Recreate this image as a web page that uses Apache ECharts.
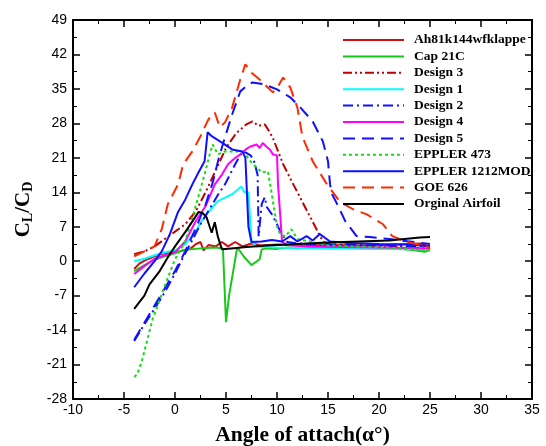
<!DOCTYPE html>
<html>
<head>
<meta charset="utf-8">
<script src="https://cdn.jsdelivr.net/npm/echarts@6/dist/echarts.min.js"></script>
<style>
  html, body { margin: 0; padding: 0; background: #fff; }
  #chart { width: 546px; height: 446px; }
</style>
</head>
<body>
<div id="chart"></div>
<script>
// values, [angle, CL/CD]
const ah81 = [[-4,-1.6],[-3.5,-0.5],[-2.7,0.4],[-2,1],[-1.5,1.4],[-0.5,1.8],[0.5,2],[1.5,2.5],[2,3.4],[2.5,3.9],[2.8,2.2],[3.3,3.3],[4,3],[4.6,3.9],[5.2,3],[5.9,3.9],[6.6,3],[7.5,3.6],[8.5,3.2],[10,3.4],[12,3.2],[15,3.3],[18,3.2],[21,3.3],[24,3.6],[25,3]];
const cap21c = [[-4,-2],[-3,-0.8],[-2,0.3],[-1,1],[0,1.6],[0.7,2.2],[2,2.5],[3,2.7],[4,2.8],[4.7,2.6],[5,-12.4],[5.3,-7],[6.1,2.8],[6.8,0.8],[7.5,-0.8],[8.3,0.4],[8.5,2.4],[9,2.6],[10,2.5],[11,2.8],[12,2.6],[14,2.8],[16,2.9],[18,2.8],[20,2.7],[22,2.5],[23.5,2.2],[24.5,1.9],[25,2.3]];
const design3 = [[-4,1.4],[-3,2],[-2,3],[-1,4.5],[0,6],[1,7.5],[2,10],[3,14],[4,18.5],[5,23],[6,26],[7,27.8],[7.6,28.4],[8.2,27.5],[8.8,27.8],[9.2,26.5],[9.6,25],[10.6,19.7],[11.6,15.6],[12.5,12],[13.3,8.8],[14,6],[14.5,4],[15,3.5],[17,3.2],[20,3],[23,2.8],[25,2.6]];
const design1 = [[-4,0],[-3,0.5],[-2,1.2],[-1,1.8],[0,2.2],[1,3.4],[2,6],[2.6,8.1],[3.4,10.3],[4.2,12.2],[5,13],[5.6,13.6],[6.2,14.6],[6.5,15.2],[6.8,14],[7.2,14],[7.5,4],[8,3],[10,2.8],[15,2.6],[20,2.5],[25,2.4]];
const design2 = [[-4,-16.2],[-3,-12.8],[-2.2,-10.3],[-1,-6.3],[0,-2.5],[0.7,0.4],[1.5,3.5],[2.5,7.5],[3.5,11],[4.3,13.8],[4.9,15.6],[5.9,19.7],[6.6,22.3],[7,22],[7.4,21.5],[7.7,20.7],[8.1,17.5],[8.2,5],[8.5,11.6],[8.8,13],[9,11],[9.5,9.5],[10,7.5],[10.3,6.1],[11,3.9],[12,3.6],[15,3.4],[20,3.2],[25,3]];
const design4 = [[-4,-2.6],[-3,-1],[-2,0.5],[-1,1.2],[0,1.8],[1,4],[2,8],[3,11.2],[3.9,15.6],[4.6,17.6],[5.2,19.7],[5.8,20.8],[6.4,21.7],[7,22.8],[7.4,23.3],[8,23.7],[8.3,23],[8.6,24],[9,23.2],[9.3,22.7],[9.6,21.7],[10,21.5],[10.1,15.6],[10.5,3.9],[11,3.3],[13,3],[16,2.9],[20,2.8],[25,2.6]];
const design5 = [[-4,-16],[-3,-12.5],[-2,-9],[-1,-5.5],[0,-2],[1,2],[2,6.5],[3,11.5],[3.7,16],[4.3,21],[4.9,25.2],[5.6,29.8],[6.4,34.5],[7.2,35.9],[7.6,36.3],[8.8,35.9],[10,34.9],[11.3,33.3],[12.3,31.2],[13.5,28.4],[14.5,24.3],[15,20.3],[15.2,15.6],[15.4,13.6],[15.9,11.6],[16.7,8.1],[17.8,5.1],[19.1,4.9],[21,4.5],[23,4],[25,3.5]];
const eppler473 = [[-4,-23.5],[-3.7,-23],[-3.2,-19.9],[-2.2,-11.8],[-1,-5],[0,0.4],[1,4],[2,11],[2.9,17.6],[3.4,21.7],[3.7,23.7],[4.2,21.7],[4.9,22.3],[6.2,22.3],[6.9,21.7],[7.4,20.3],[8.5,18],[9.1,18.3],[9.3,16],[10,7.1],[10.3,5.5],[10.8,5],[11.4,6.5],[12,4.5],[13.2,4],[15,3.2],[20,2.8],[25,2.2]];
const eppler1212 = [[-4,-5.3],[-3,-2.5],[-2,0],[-1.3,2],[-0.5,5.5],[0.3,10],[1,12.5],[1.7,15.6],[2.3,18],[2.9,20.3],[3.2,26.2],[3.6,25.4],[4.6,24.1],[5.6,22.7],[6.6,22.3],[6.9,21],[7.2,7],[7.4,4.9],[7.5,3.9],[8.5,4],[9.5,4.3],[10.5,4],[11.3,5.1],[12,4],[12.9,5.1],[13.5,4.2],[14.2,5.5],[15.2,4],[17,3.7],[20,3.5],[23,3.4],[25,3]];
const goe626 = [[-4,1],[-3,2],[-2,3],[-1.3,6.5],[-0.7,11.6],[0.3,15.6],[0.8,19.7],[1.7,22.3],[2.5,25.4],[3.2,28.5],[3.6,29.8],[3.9,30.2],[4.4,27.2],[4.9,28.2],[5.6,31.2],[6.4,36.9],[6.9,40],[7.5,38.3],[8.3,36.9],[9,35.5],[9.6,34.3],[10.1,35.5],[10.6,37.3],[11.3,35.3],[12,31.2],[12.5,25.2],[13.5,20.3],[14.9,15.6],[16.2,12],[17.5,10.5],[18.8,9.5],[20.4,7.5],[21.3,5.1],[22,4.5],[23,3.8],[24.7,3],[25,2.5]];
const original = [[-4,-9.7],[-3,-7],[-2.5,-4.7],[-1.5,-2],[-0.7,0.8],[0,3],[1,5.9],[2,9],[2.3,10],[2.7,9.8],[3.1,8.9],[3.4,7],[3.6,5.8],[3.9,7.9],[4.2,5],[4.6,2.4],[5.5,2.6],[7,2.9],[9,3.2],[12,3.5],[15,3.8],[18,4],[21,4.2],[24,4.8],[25,4.9]];

const xTicks = { min: -10, max: 35, step: 5 };
const yTicks = { min: -28, max: 49, step: 7 };

const chart = echarts.init(document.getElementById('chart'));

function line(name, data, color, type) {
  return {
    name: name,
    type: 'line',
    data: data,
    symbol: 'none',
    smooth: false,
    color: color,
    lineStyle: { color: color, width: 2, type: type }
  };
}

const axisCommon = {
  axisLine: { show: true, onZero: false, lineStyle: { color: '#000', width: 2 } },
  axisTick: { show: true, inside: true, length: 7, lineStyle: { color: '#000', width: 1.5 } },
  minorTick: { show: true, splitNumber: 2, length: 4, lineStyle: { color: '#000', width: 1 } },
  splitLine: { show: false }
};

const labelFont = { color: '#000', fontFamily: 'Liberation Sans, Arial', fontSize: 14 };
const serif = 'Liberation Serif, Times New Roman';

const option = {
  animation: false,
  backgroundColor: '#fff',
  grid: { left: 73, right: 14, top: 20, bottom: 47, outerBoundsMode: 'none', containLabel: false },
  legend: {
    orient: 'vertical',
    left: 337,
    top: 28,
    itemWidth: 61,
    itemHeight: 14,
    itemGap: 2.4,
    itemStyle: { opacity: 0 },
    textStyle: { fontFamily: serif, fontWeight: 'bold', fontSize: 13.5, color: '#000', padding: [0, 0, 0, 5] },
    data: ['Ah81k144wfklappe', 'Cap 21C', 'Design 3', 'Design 1', 'Design 2', 'Design 4', 'Design 5', 'EPPLER 473', 'EPPLER 1212MOD', 'GOE 626', 'Orginal Airfoil']
  },
  xAxis: [
    Object.assign({
      type: 'value', min: xTicks.min, max: xTicks.max, interval: xTicks.step,
      axisLabel: Object.assign({ margin: 4 }, labelFont),
      name: 'Angle of attach(\u03b1\u00b0)',
      nameLocation: 'middle',
      nameGap: 25,
      nameTextStyle: { fontFamily: serif, fontWeight: 'bold', fontSize: 21.5, color: '#000' }
    }, axisCommon),
    Object.assign({
      type: 'value', position: 'top', min: xTicks.min, max: xTicks.max, interval: xTicks.step,
      axisLabel: { show: false }
    }, axisCommon)
  ],
  yAxis: [
    Object.assign({
      type: 'value', min: yTicks.min, max: yTicks.max, interval: yTicks.step,
      axisLabel: Object.assign({ margin: 6 }, labelFont),
      name: '{a|C}{s|L}{a|/C}{s|D}',
      nameLocation: 'middle',
      nameRotate: 90,
      nameGap: 36,
      nameTextStyle: {
        rich: {
          a: { fontFamily: serif, fontWeight: 'bold', fontSize: 21, color: '#000' },
          s: { fontFamily: serif, fontWeight: 'bold', fontSize: 14, color: '#000', verticalAlign: 'bottom', padding: [10, 0, 0, 0] }
        }
      }
    }, axisCommon),
    Object.assign({
      type: 'value', position: 'right', min: yTicks.min, max: yTicks.max, interval: yTicks.step,
      axisLabel: { show: false }
    }, axisCommon)
  ],
  series: [
    line('Ah81k144wfklappe', ah81, '#d01010', 'solid'),
    line('Cap 21C', cap21c, '#18c818', 'solid'),
    line('Design 3', design3, '#c00000', [9, 3, 2, 3, 2, 3]),
    line('Design 1', design1, '#00ffff', 'solid'),
    line('Design 2', design2, '#1010ff', [10, 4, 2, 4]),
    line('Design 4', design4, '#ff00ff', 'solid'),
    line('Design 5', design5, '#1010ff', [12, 7]),
    line('EPPLER 473', eppler473, '#10e010', [3, 3]),
    line('EPPLER 1212MOD', eppler1212, '#1010ff', 'solid'),
    line('GOE 626', goe626, '#ff2a00', [12, 7]),
    line('Orginal Airfoil', original, '#000000', 'solid')
  ]
};

option && chart.setOption(option);
</script>
</body>
</html>
